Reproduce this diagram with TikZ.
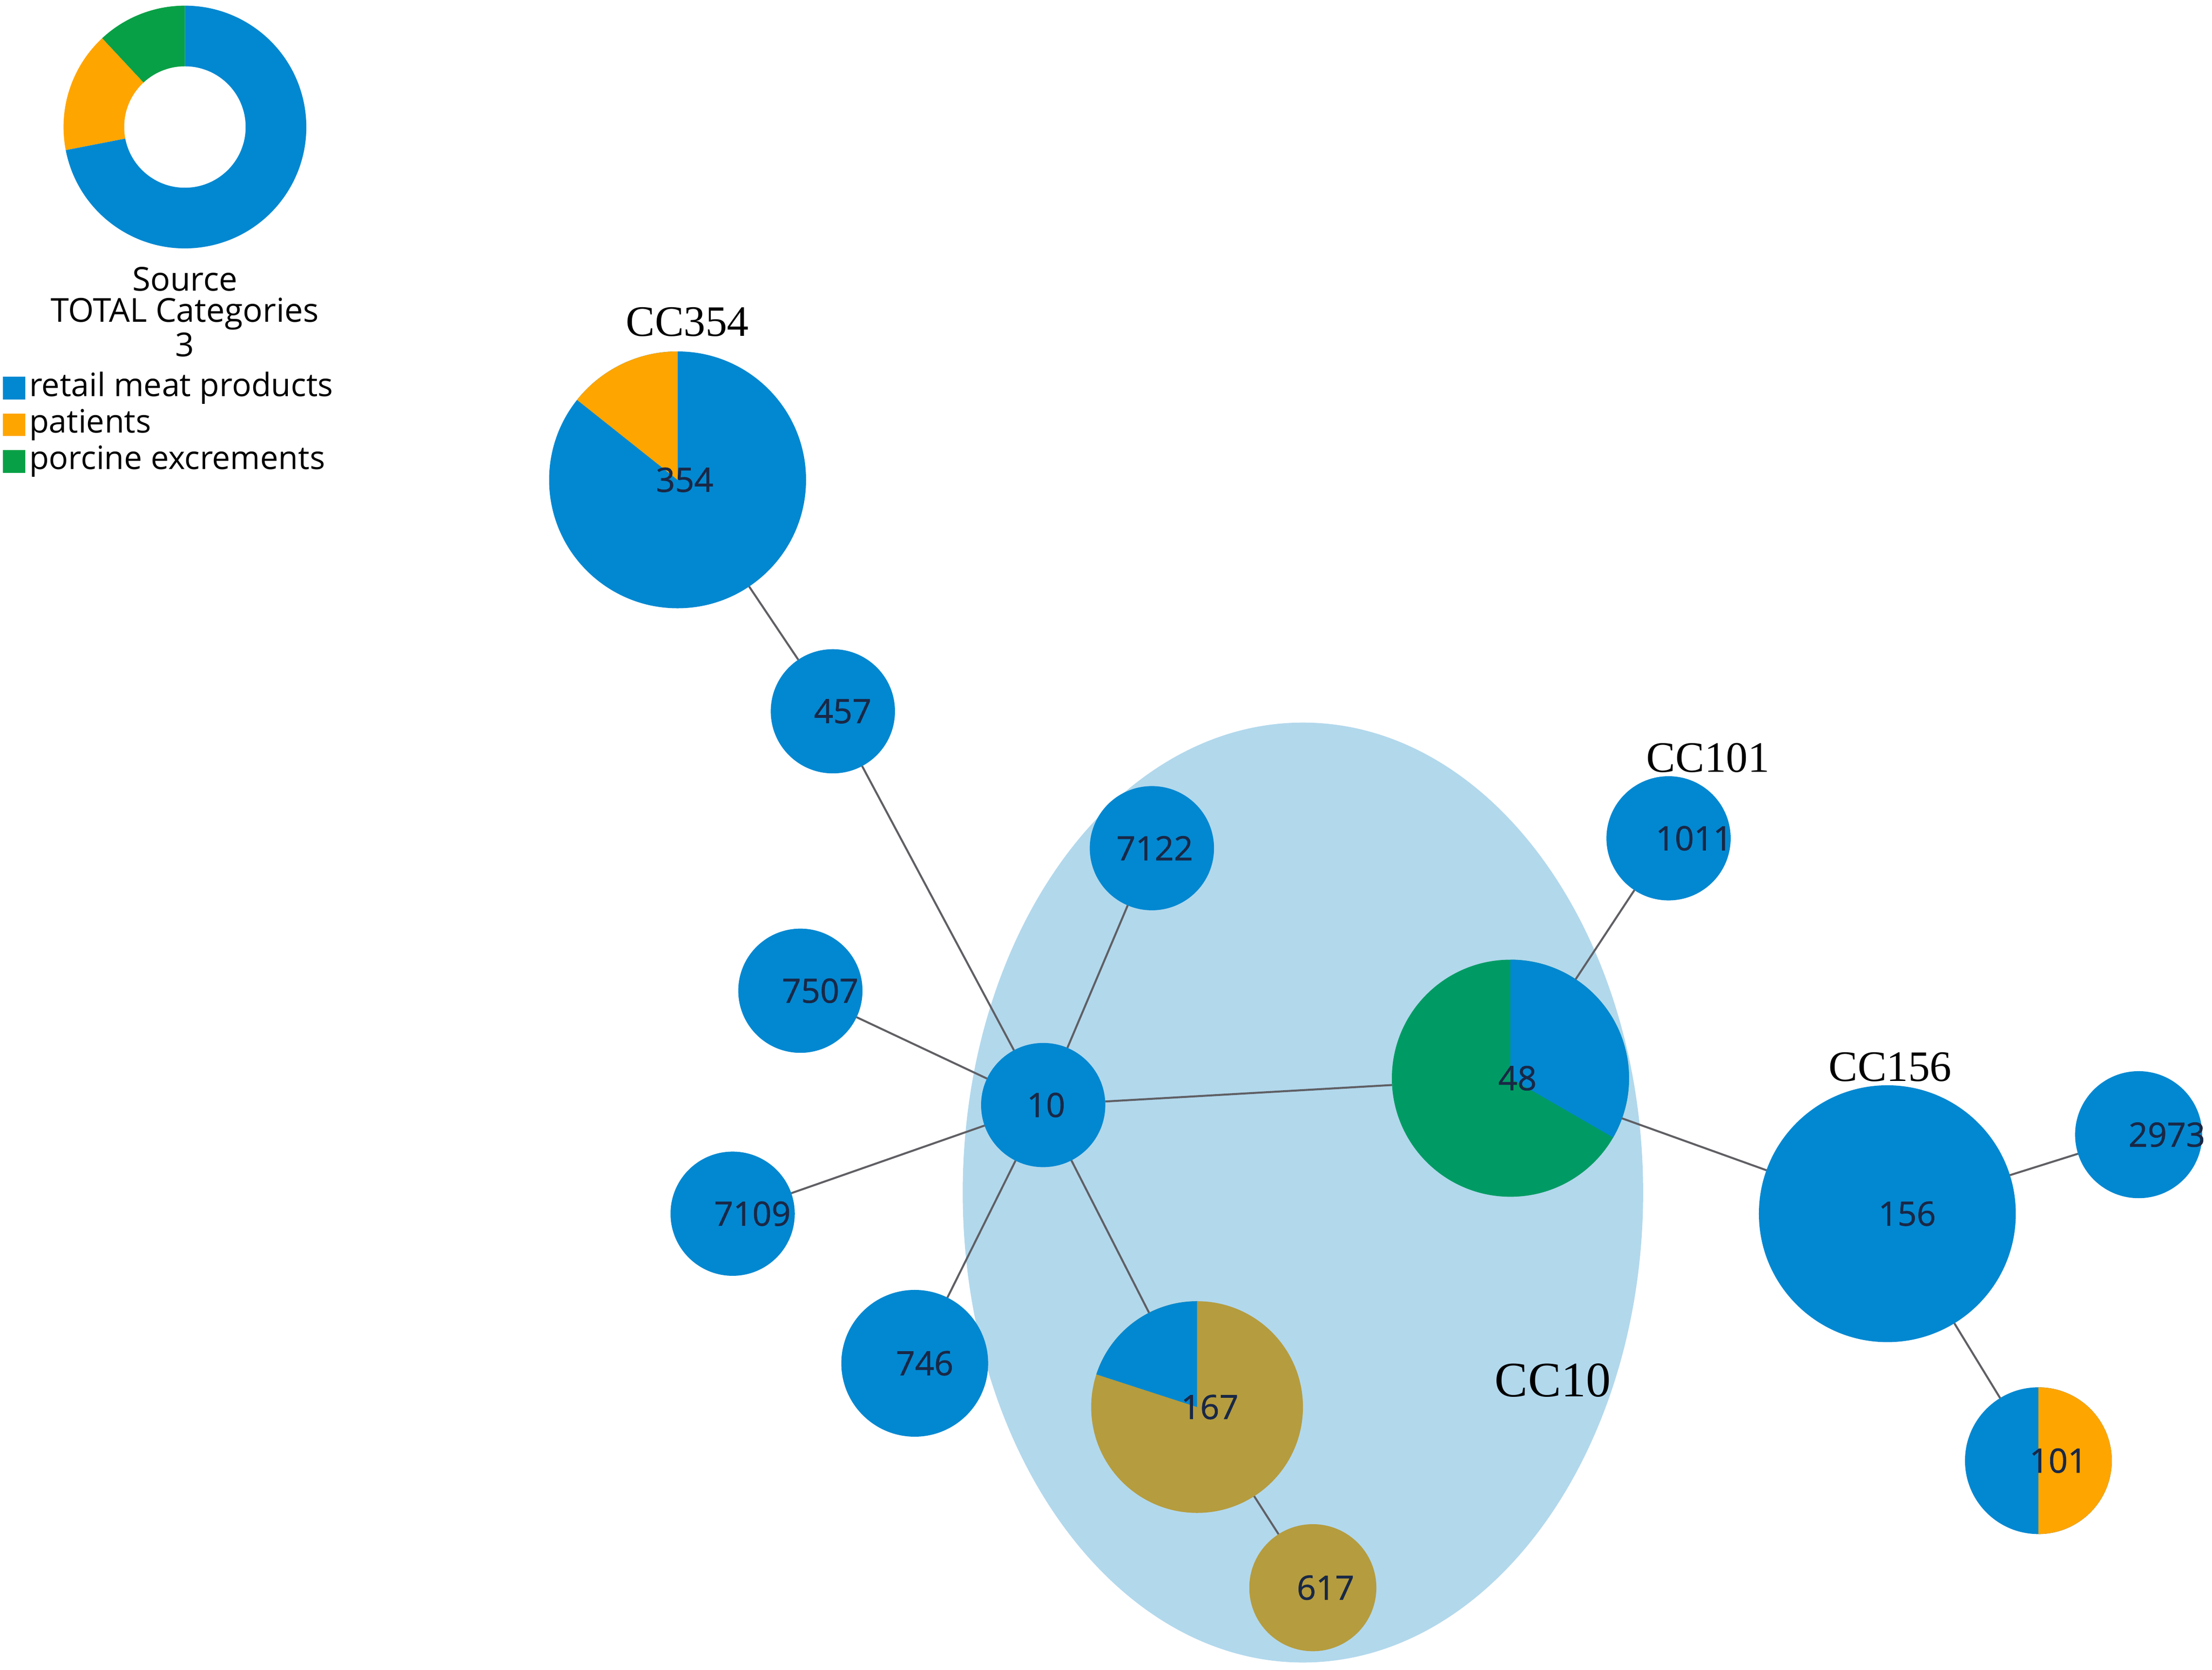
\documentclass[tikz,border=0pt]{standalone}
\usepackage{fontspec}
\setmainfont{Open Sans}
\newfontfamily\ccfont{Liberation Serif}
\newfontfamily\numfont[FakeBold=1]{Open Sans}
\usetikzlibrary{positioning}
\definecolor{stblue}{RGB}{2,136,209}
\definecolor{storange}{RGB}{255,165,0}
\definecolor{stgreen}{RGB}{0,155,100}
\definecolor{leggreen}{RGB}{8,160,70}
\definecolor{stolive}{RGB}{181,156,62}
\definecolor{ccfill}{RGB}{178,216,236}
\definecolor{numcol}{RGB}{25,40,70}
\definecolor{edgecol}{RGB}{95,95,100}
\tikzstyle{st} = [circle, fill=stblue, inner sep=0pt, outer sep=0pt, minimum size=17.6mm]
\tikzstyle{num} = [font=\numfont\fontsize{13.5}{16}\selectfont, text=numcol, inner sep=0pt, xshift=1.8mm]
\tikzstyle{cc} = [font=\ccfont\fontsize{17.5}{20}\selectfont, inner sep=0pt]
\tikzstyle{edge} = [draw=edgecol, line width=0.8pt]
\tikzstyle{legsq} = [minimum size=3.2mm, inner sep=0pt]
\tikzstyle{legtxt} = [font=\fontsize{13}{15}\selectfont, inner sep=0pt]
\tikzset{pie/.style n args={3}{path picture={\fill[#1] (path picture bounding box.center) -- ++(#2:25mm) arc[start angle=#2, end angle=#3, radius=25mm] -- cycle;}}}

\begin{document}
\begin{tikzpicture}[x=0.2mm, y=0.2mm]
\useasboundingbox (0,0) rectangle (1567,-1183);

% legend
\coordinate (donut) at (131,-90);
\fill[leggreen] (donut) -- ++(90:86) arc[start angle=90, end angle=133, radius=86] -- cycle;
\fill[storange] (donut) -- ++(133:86) arc[start angle=133, end angle=191, radius=86] -- cycle;
\fill[stblue] (donut) -- ++(191:86) arc[start angle=191, end angle=450, radius=86] -- cycle;
\fill[white] (donut) circle[radius=43];

\node[align=center, font=\fontsize{13.3}{12.5}\selectfont, inner sep=0pt] (legtitle) at (131,-221) {Source\\TOTAL Categories\\3};
\node[legsq, fill=stblue] (sq1) at (10,-275) {};
\node[legtxt, right=0.4mm of sq1] (lt1) {retail meat products};
\node[legsq, fill=storange] (sq2) at (10,-301) {};
\node[legtxt, right=0.4mm of sq2] (lt2) {patients};
\node[legsq, fill=leggreen] (sq3) at (10,-327) {};
\node[legtxt, right=0.4mm of sq3] (lt3) {porcine excrements};

% clonal complex CC10
\fill[ccfill] (923,-845) ellipse [x radius=241, y radius=333];

\node[st, minimum size=36.4mm, pie={storange}{90}{141.5}, label={[num, xshift=-0.8mm]center:354}] (n354) at (480,-340) {};
\node[st, label={[num, xshift=-0.4mm]center:457}] (n457) at (590,-504) {};
\node[st, label={[num, xshift=-1.4mm]center:7122}] (n7122) at (816,-601) {};
\node[st, label={[num, xshift=1mm]center:7507}] (n7507) at (567,-702) {};
\node[st, label={[num, xshift=-1.4mm]center:10}] (n10) at (739,-783) {};
\node[st, label={[num, xshift=1mm]center:7109}] (n7109) at (519,-860) {};
\node[st, minimum size=20.8mm, label={[num, xshift=-0.4mm]center:746}] (n746) at (648,-966) {};
\node[st, minimum size=30mm, fill=stolive, pie={stblue}{90}{162}, label={[num]center:167}] (n167) at (848,-997) {};
\node[st, minimum size=18mm, fill=stolive, label={[num]center:617}] (n617) at (930,-1125) {};
\node[st, minimum size=33.6mm, fill=stgreen, pie={stblue}{-30}{90}, label={[num, xshift=-0.8mm]center:48}] (n48) at (1070,-764) {};
\node[st, label={[num, xshift=1.8mm]center:1011}] (n1011) at (1182,-594) {};
\node[st, minimum size=36.4mm, label={[num, xshift=1mm]center:156}] (n156) at (1337,-860) {};
\node[st, minimum size=18mm, label={[num, xshift=2.2mm]center:2973}] (n2973) at (1515,-804) {};
\node[st, minimum size=20.8mm, pie={storange}{-90}{90}, label={[num, xshift=1mm]center:101}] (n101) at (1444,-1035) {};

\node[cc] (cc354) at (487,-228) {CC354};
\node[cc] (cc101) at (1210,-537) {CC101};
\node[cc] (cc156) at (1339,-756) {CC156};
\node[cc, font=\ccfont\fontsize{20}{24}\selectfont] (cc10) at (1100,-978) {CC10};

\draw[edge]
	(n354) -- (n457)
	(n457) -- (n10)
	(n7122) -- (n10)
	(n7507) -- (n10)
	(n7109) -- (n10)
	(n746) -- (n10)
	(n10) -- (n167)
	(n167) -- (n617)
	(n10) -- (n48)
	(n48) -- (n1011)
	(n48) -- (n156)
	(n156) -- (n2973)
	(n156) -- (n101)
;

\end{tikzpicture}
\end{document}
